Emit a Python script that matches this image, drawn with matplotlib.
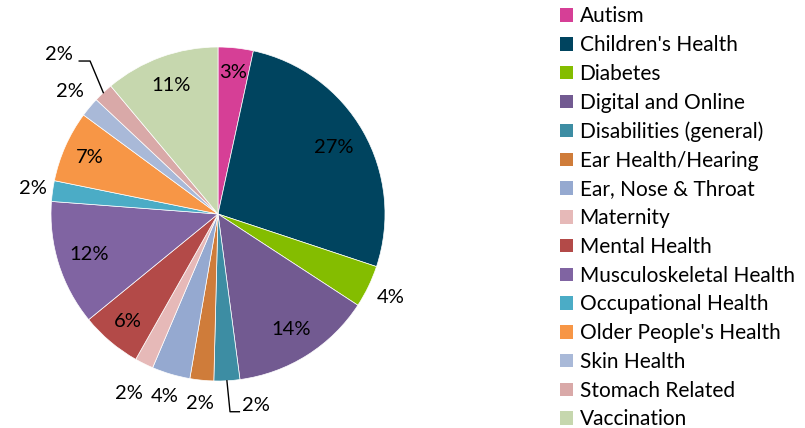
import numpy as np
import matplotlib

matplotlib.use("Agg")
import matplotlib.pyplot as plt
from matplotlib.patches import Patch

plt.rcParams["font.family"] = ["Lato", "DejaVu Sans"]

# share of each topic (percent)
categories = [
    "Autism", "Children's Health", "Diabetes", "Digital and Online",
    "Disabilities (general)", "Ear Health/Hearing", "Ear, Nose & Throat",
    "Maternity", "Mental Health", "Musculoskeletal Health",
    "Occupational Health", "Older People's Health", "Skin Health",
    "Stomach Related", "Vaccination",
]
shares = [3.4, 26.7, 4.1, 13.7, 2.5, 2.3, 3.7, 1.8, 5.9, 12.1, 2.0, 6.9, 1.9, 1.9, 11.1]
shown = ["3%", "27%", "4%", "14%", "2%", "2%", "4%", "2%", "6%", "12%",
         "2%", "7%", "2%", "2%", "11%"]

colors = ["#D63F96", "#00445F", "#84BD00", "#725A91", "#3D8DA3", "#CF7C3A",
          "#95A9D0", "#E6B9B8", "#B34A48", "#8064A2", "#4BACC6", "#F79646",
          "#A9B9D8", "#D9A9A8", "#C6D7AE"]

# label distance from centre (radius units); None -> leader line label
label_r = [0.85, 0.80, 1.15, 0.82, None, 1.14, 1.14, 1.20, 0.84, 0.81,
           1.12, 0.84, 1.15, None, 0.82]
# leader-line labels: elbow, end of line, text position
leaders = {
    4: ((0.072, -1.184), (0.128, -1.184), (0.226, -1.144)),
    13: ((-0.766, 0.916), (-0.831, 0.916), (-0.950, 0.958)),
}

W, H = 805, 428
cx, cy, R = 218, 214, 167
fig = plt.figure(figsize=(W / 100, H / 100), dpi=100)
ax = fig.add_axes([(cx - R) / W, (H - cy - R) / H, 2 * R / W, 2 * R / H])

wedges, _ = ax.pie(shares, colors=colors, startangle=90, counterclock=False,
                   radius=1, wedgeprops=dict(edgecolor="white", linewidth=0.5))
ax.set_xlim(-1, 1)
ax.set_ylim(-1, 1)
ax.axis("off")

fs = 14.5
for i, w in enumerate(wedges):
    mid = np.deg2rad((w.theta1 + w.theta2) / 2)
    if label_r[i] is not None:
        r = label_r[i]
        ax.text(r * np.cos(mid), r * np.sin(mid), shown[i], ha="center",
                va="center", fontsize=fs, color="black")
    else:
        elbow, end, txt = leaders[i]
        p0 = (np.cos(mid), np.sin(mid))
        ax.plot([p0[0], elbow[0], end[0]], [p0[1], elbow[1], end[1]],
                color="black", lw=1, clip_on=False)
        ax.text(txt[0], txt[1], shown[i], ha="center", va="center",
                fontsize=fs, color="black")

handles = [Patch(facecolor=c, edgecolor="none") for c in colors]
fig.legend(handles, categories, loc="upper left",
           bbox_to_anchor=(552 / W, 1 + 2 / H), frameon=False,
           fontsize=15, handlelength=0.62, handleheight=0.62,
           handletextpad=0.3, labelspacing=0.42, borderaxespad=0)

fig.savefig("out.png", dpi=100)
